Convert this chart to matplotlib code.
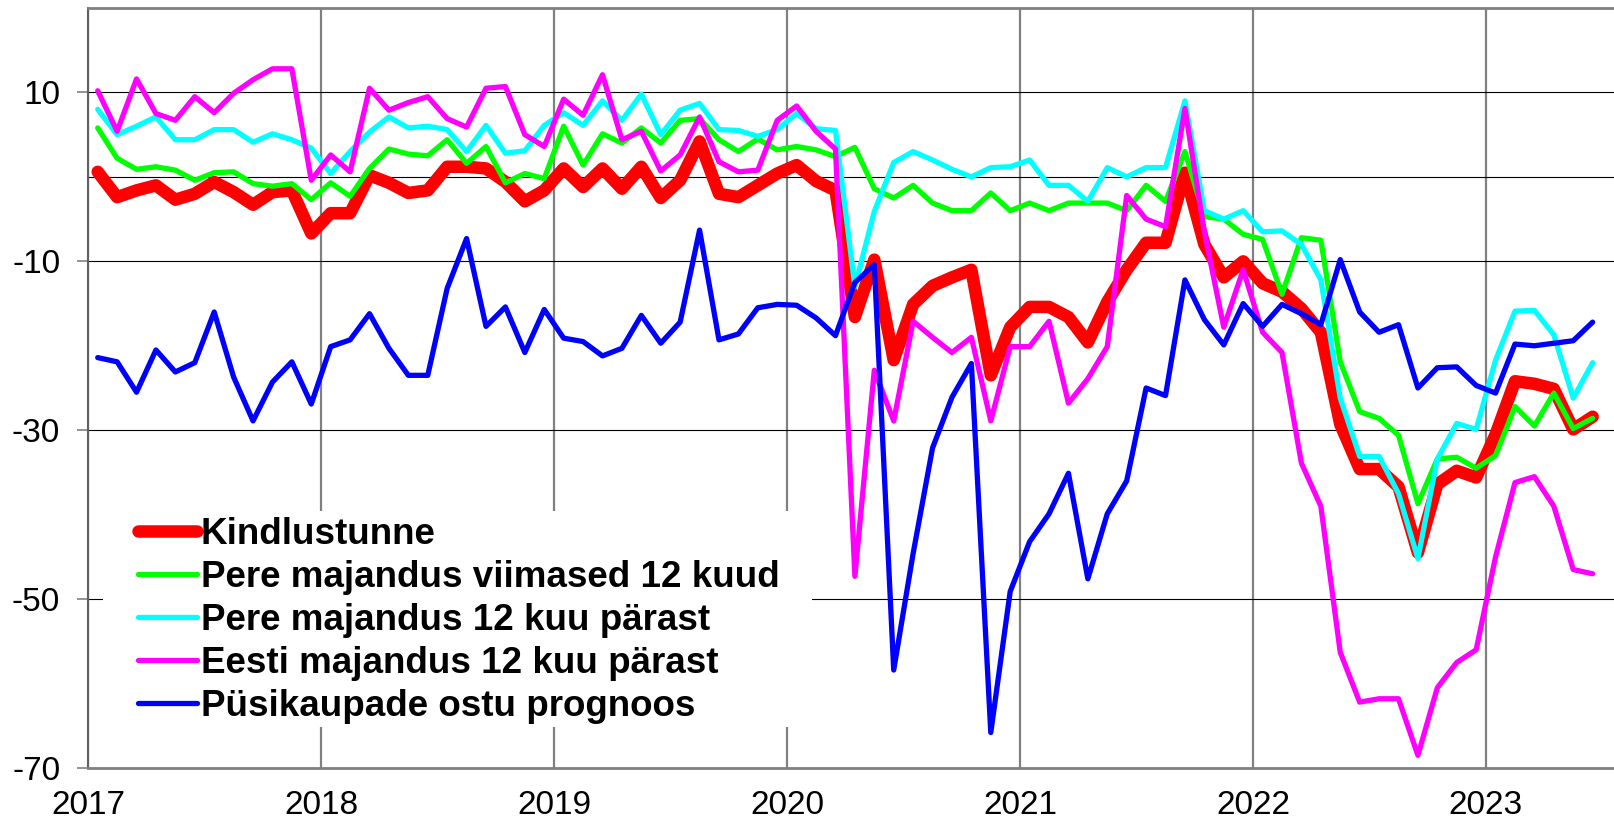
import matplotlib.pyplot as plt
import numpy as np
from matplotlib.patches import Rectangle

plt.rcParams['axes.unicode_minus'] = False

# monthly data, Jan 2017 .. Jun 2023
months = np.arange(78)
x = 2017 + (months + 0.5) / 12

kindlustunne = [0.6, -2.4, -1.6, -1.0, -2.7, -2.0, -0.6, -1.8, -3.3, -1.8, -1.6, -6.7,
                -4.3, -4.3, 0.2, -0.7, -1.9, -1.6, 1.2, 1.2, 1.0, -0.6, -2.9, -1.6,
                1.0, -1.2, 1.0, -1.4, 1.2, -2.5, -0.4, 4.2, -2.0, -2.4, -1.0, 0.4,
                1.4, -0.5, -1.6, -16.6, -9.8, -21.7, -15.1, -12.9, -11.9, -11.0, -23.5, -17.8,
                -15.4, -15.4, -16.6, -19.6, -14.8, -11.0, -7.8, -7.8, 0.5, -8.0, -11.9, -10.0,
                -12.6, -13.6, -15.6, -18.4, -29.3, -34.6, -34.6, -36.7, -44.5, -36.4, -34.8, -35.6,
                -30.5, -24.2, -24.5, -25.1, -29.9, -28.4]

pere_viimased = [5.8, 2.2, 0.9, 1.2, 0.8, -0.4, 0.5, 0.6, -0.8, -1.1, -0.8, -2.7,
                 -0.7, -2.3, 1.0, 3.3, 2.7, 2.5, 4.4, 1.6, 3.6, -0.7, 0.4, -0.2,
                 6.0, 1.4, 5.1, 4.0, 5.8, 4.0, 6.7, 6.9, 4.4, 3.0, 4.5, 3.2,
                 3.6, 3.2, 2.4, 3.5, -1.4, -2.5, -1.0, -3.1, -4.0, -4.0, -1.9, -4.0,
                 -3.1, -4.0, -3.1, -3.1, -3.1, -4.0, -1.0, -2.9, 3.0, -4.7, -5.0, -6.8,
                 -7.4, -13.9, -7.2, -7.5, -21.9, -27.8, -28.6, -30.6, -38.7, -33.4, -33.2, -34.5,
                 -33.0, -27.2, -29.5, -25.6, -29.8, -28.6]

pere_parast = [8.0, 5.0, 6.0, 7.1, 4.4, 4.4, 5.6, 5.6, 4.1, 5.1, 4.4, 3.4,
               0.4, 3.0, 5.3, 7.1, 5.8, 6.0, 5.6, 3.0, 6.1, 2.8, 3.1, 6.1,
               7.6, 6.1, 9.0, 6.7, 9.8, 5.0, 7.9, 8.7, 5.6, 5.5, 4.8, 5.6,
               7.5, 5.7, 5.5, -13.0, -4.1, 1.7, 3.0, 2.0, 0.9, 0.0, 1.1, 1.2,
               2.0, -1.0, -1.0, -2.9, 1.1, 0.0, 1.1, 1.1, 9.0, -4.0, -5.0, -4.0,
               -6.5, -6.4, -8.0, -12.2, -26.2, -33.1, -33.1, -37.5, -45.2, -33.4, -29.2, -29.9,
               -21.7, -15.9, -15.8, -18.7, -26.2, -22.0]

eesti_parast = [10.2, 5.4, 11.6, 7.5, 6.7, 9.5, 7.6, 9.9, 11.5, 12.8, 12.8, -0.4,
                2.6, 0.6, 10.5, 7.9, 8.8, 9.5, 6.9, 5.9, 10.5, 10.7, 5.0, 3.6,
                9.2, 7.3, 12.1, 4.4, 5.4, 0.7, 2.6, 7.1, 1.8, 0.6, 0.8, 6.7,
                8.4, 5.4, 3.3, -47.3, -22.9, -28.9, -17.1, -19.0, -20.8, -19.0, -28.9, -20.1,
                -20.1, -17.1, -26.8, -23.9, -20.1, -2.2, -5.0, -5.9, 8.1, -6.5, -17.8, -11.0,
                -18.4, -20.8, -33.9, -39.0, -56.3, -62.2, -61.8, -61.8, -68.5, -60.5, -57.5, -56.0,
                -45.0, -36.2, -35.5, -39.0, -46.5, -47.0]

pysikaubad = [-21.4, -21.9, -25.5, -20.5, -23.1, -22.0, -16.0, -23.7, -28.9, -24.3, -21.9, -26.9,
              -20.1, -19.3, -16.2, -20.3, -23.5, -23.5, -13.2, -7.3, -17.7, -15.4, -20.8, -15.7,
              -19.1, -19.5, -21.2, -20.3, -16.4, -19.7, -17.2, -6.3, -19.3, -18.6, -15.5, -15.1,
              -15.2, -16.7, -18.8, -12.5, -10.4, -58.4, -44.6, -32.1, -26.1, -22.1, -65.8, -49.1,
              -43.2, -39.9, -35.1, -47.6, -39.9, -36.0, -25.0, -25.9, -12.2, -16.9, -19.9, -15.0,
              -17.7, -15.1, -16.2, -17.5, -9.8, -16.0, -18.4, -17.5, -25.0, -22.6, -22.5, -24.7,
              -25.6, -19.8, -20.0, -19.7, -19.4, -17.2]

years = list(range(2017, 2024))
yticks = [-70, -50, -30, -10, 10]

fig = plt.figure(figsize=(16.14, 8.25), dpi=100)
ax = fig.add_axes([88/1614, 57/825, 1526/1614, 760/825])

kw = dict(solid_joinstyle='round', solid_capstyle='round')
ax.plot(x, kindlustunne, color='#ff0000', lw=9, label='Kindlustunne', zorder=3, **kw)
ax.plot(x, pere_viimased, color='#00ff00', lw=3.8, label='Pere majandus viimased 12 kuud', zorder=4, **kw)
ax.plot(x, pere_parast, color='#00ffff', lw=3.8, label='Pere majandus 12 kuu pärast', zorder=5, **kw)
ax.plot(x, eesti_parast, color='#ff00ff', lw=3.8, label='Eesti majandus 12 kuu pärast', zorder=6, **kw)
ax.plot(x, pysikaubad, color='#0000ff', lw=3.8, label='Püsikaupade ostu prognoos', zorder=7, **kw)

ax.set_xlim(2017, 2023.55)
ax.set_ylim(-70, 20)
ax.set_xticks(years)
ax.set_yticks(yticks)

ax.set_axisbelow(True)
ax.grid(axis='y', color='black', lw=0.8)
ax.grid(axis='x', color='#808080', lw=1.6)
ax.axhline(0, color='black', lw=0.8, zorder=1)

for lab in ax.get_xticklabels() + ax.get_yticklabels():
    lab.set_family('Liberation Sans')
ax.tick_params(axis='y', direction='out', length=8, width=1.2, color='#808080', pad=12, labelsize=24)
ax.tick_params(axis='x', length=0, pad=16, labelsize=24)

ax.spines['right'].set_visible(False)
for s in ['top', 'bottom']:
    ax.spines[s].set_color('#808080')
    ax.spines[s].set_linewidth(2)
ax.spines['left'].set_color('#606060')
ax.spines['left'].set_linewidth(1.5)

# white box behind the legend, hides grid lines
ax.add_patch(Rectangle((0.0098, 0.054), 0.4647, 0.284, transform=ax.transAxes,
                       facecolor='white', edgecolor='none', zorder=1.5))
ax.legend(loc='upper left', bbox_to_anchor=(0.0325, 0.3305), frameon=False,
          prop=dict(family='Liberation Sans', weight='bold', size=26.5),
          handlelength=1.62, handletextpad=0.1, labelspacing=0.22,
          borderpad=0, borderaxespad=0)

fig.savefig('out.png', dpi=100)
